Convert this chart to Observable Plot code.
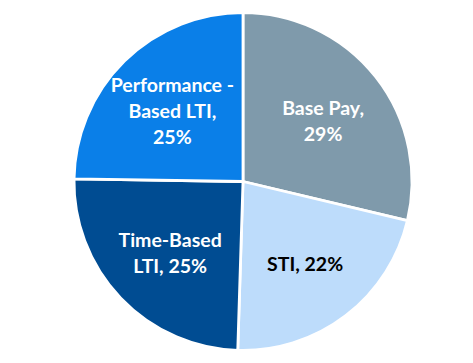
<!DOCTYPE html>
<html>
<head>
<meta charset="utf-8">
<script src="https://cdn.jsdelivr.net/npm/d3@7"></script>
<script src="https://cdn.jsdelivr.net/npm/@observablehq/plot@0.6"></script>
<style>
  html, body { margin: 0; padding: 0; background: #fff; }
</style>
</head>
<body>
<div id="chart"></div>
<script>
const categories = ["Base Pay", "STI", "Time-Based LTI", "Performance-Based LTI"];
const values = [29, 22, 25, 25];
const labels = ["Base Pay,\n29%", "STI, 22%", "Time-Based\nLTI, 25%", "Performance -\nBased LTI,\n25%"];
const colors = ["#7f9aab", "#bddcfb", "#004c92", "#0a7fe8"];
const labelColors = ["#ffffff", "#000000", "#ffffff", "#ffffff"];

const pie = d3.pie().sort(null).value(d => d.value);
const table = pie(categories.map((c, i) => ({category: c, value: values[i], label: labels[i], color: colors[i], labelColor: labelColors[i]})));
const labelRadius = 0.6;
const labelData = table.map(a => {
  const mid = (a.startAngle + a.endAngle) / 2;
  return {...a.data, lx: labelRadius * Math.sin(mid), ly: labelRadius * Math.cos(mid)};
});

function slices(index, scales) {
  const sx = scales.x, sy = scales.y;
  const cx = sx(0), cy = sy(0);
  const r = (sx(1) - sx(-1)) / 2;
  const arc = d3.arc().innerRadius(0).outerRadius(r);
  const g = d3.create("svg:g").attr("transform", `translate(${cx},${cy})`);
  g.selectAll("path").data(table).join("path")
    .attr("d", arc)
    .attr("fill", d => d.data.color)
    .attr("stroke", "#fff")
    .attr("stroke-width", 2.8)
    .attr("stroke-linejoin", "round");
  return g.node();
}

const chart = Plot.plot({
  width: 473,
  height: 363,
  margin: 0,
  style: {background: "#fff"},
  x: {domain: [-1, 1], range: [74, 412], axis: null},
  y: {domain: [-1, 1], range: [350, 13], axis: null},
  marks: [
    slices,
    Plot.text(labelData, {
      x: "lx", y: "ly", text: "label",
      fill: d => d.labelColor,
      fontSize: 19.5, fontWeight: "bold",
      fontFamily: "Lato",
      lineHeight: 1.33,
      textAnchor: "middle"
    })
  ]
});
document.getElementById("chart").appendChild(chart);
</script>
</body>
</html>
